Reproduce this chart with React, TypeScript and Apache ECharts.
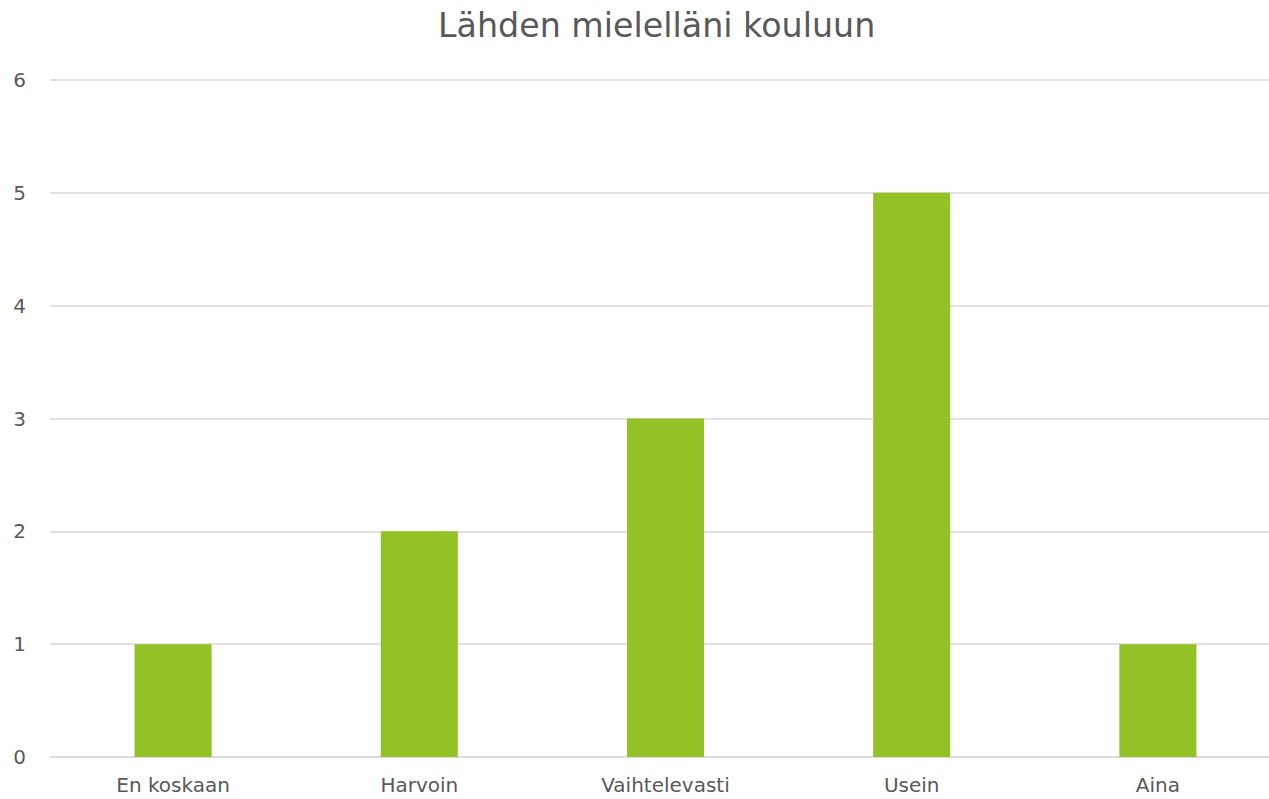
import React, { useEffect, useRef } from "react";
import * as echarts from "echarts";

const title = "Lähden mielelläni kouluun";
const categories = ["En koskaan", "Harvoin", "Vaihtelevasti", "Usein", "Aina"];
const values = [1, 2, 3, 5, 1];

export default function App() {
  const ref = useRef<HTMLDivElement>(null);
  useEffect(() => {
    const chart = echarts.init(ref.current!, null, { renderer: "svg" });
    chart.setOption({
      animation: false,
      title: {
        text: title,
        left: 433,
        top: 4,
        textStyle: { fontFamily: "DejaVu Sans", fontSize: 33.3, fontWeight: "normal", color: "#595959" },
      },
      grid: { left: 50, right: 3, top: 80, bottom: 42 },
      xAxis: {
        type: "category",
        data: categories,
        axisLine: { lineStyle: { color: "#d9d9d9", width: 1.5 } },
        axisTick: { show: false },
        axisLabel: { color: "#595959", fontSize: 20, fontFamily: "DejaVu Sans", margin: 18 },
      },
      yAxis: {
        type: "value",
        min: 0,
        max: 6,
        interval: 1,
        axisLine: { show: false },
        axisTick: { show: false },
        splitLine: { lineStyle: { color: "#d9d9d9", width: 1.5 } },
        axisLabel: { color: "#595959", fontSize: 20, fontFamily: "DejaVu Sans", margin: 24 },
      },
      series: [
        {
          type: "bar",
          data: values,
          barWidth: "31.3%",
          itemStyle: { color: "#92c225" },
        },
      ],
    });
    return () => chart.dispose();
  }, []);
  return (
    <div style={{ position: "absolute", left: 0, top: 0, width: 1269, height: 799, overflow: "hidden" }}>
      <div ref={ref} style={{ width: 1284, height: 799 }} />
    </div>
  );
}
